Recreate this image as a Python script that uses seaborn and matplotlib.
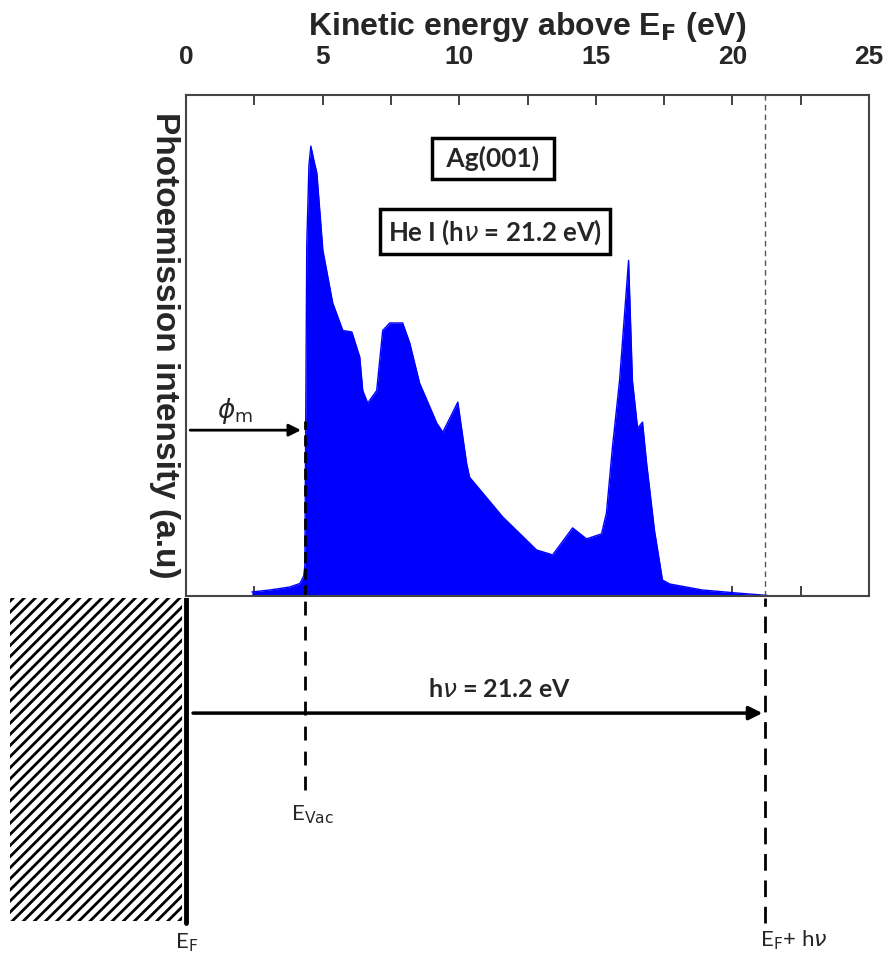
import matplotlib
matplotlib.use("Agg")
import matplotlib.pyplot as plt
import seaborn as sns
import pandas as pd

# ── Data ──────────────────────────────────────────────────────────────────────
ENERGY = [2.41, 3.07, 3.80, 4.17, 4.31, 4.35, 4.42, 4.50, 4.57, 4.68, 4.79,
          5.01, 5.37, 5.74, 6.07, 6.36, 6.47, 6.65, 6.98, 7.20, 7.46, 7.93,
          8.19, 8.55, 9.18, 9.40, 9.95, 10.27, 10.38, 11.59, 12.83, 13.42,
          14.15, 14.66, 15.21, 15.39, 15.61, 15.87, 16.20, 16.34, 16.53,
          16.71, 16.86, 17.15, 17.44, 17.70, 18.90, 20.15, 21.30]
INTENSITY = [0.008, 0.012, 0.018, 0.025, 0.04, 0.06, 0.70, 0.86, 0.898, 0.87,
             0.844, 0.69, 0.585, 0.53, 0.527, 0.477, 0.41, 0.385, 0.41, 0.53,
             0.545, 0.545, 0.505, 0.425, 0.345, 0.327, 0.387, 0.265, 0.237,
             0.158, 0.092, 0.082, 0.136, 0.114, 0.124, 0.166, 0.297, 0.43,
             0.67, 0.43, 0.335, 0.347, 0.265, 0.13, 0.032, 0.024, 0.012,
             0.006, 0.001]
X_TICKS = [0, 5, 10, 15, 20, 25]
E_VAC = 4.36        # work function of Ag(001), eV
H_NU = 21.2         # He I photon energy, eV

# ── Style ──────────────────────────────────────────────────────────────────────
sns.set_theme(style="white")
plt.rcParams["font.family"] = ["Liberation Sans", "DejaVu Sans"]
plt.rcParams["hatch.linewidth"] = 2.0
CAL = ["Lato", "DejaVu Sans"]
BLUE = "#0000ff"

df = pd.DataFrame({"energy": ENERGY, "intensity": INTENSITY})

fig = plt.figure(figsize=(8.89, 9.57), dpi=100)
ax = fig.add_axes([186 / 889, 361 / 957, 683 / 889, 501 / 957])
ax2 = fig.add_axes([10 / 889, 7 / 957, 859 / 889, 352 / 957])

# ── Spectrum ──────────────────────────────────────────────────────────────────
ax.fill_between(df["energy"], df["intensity"], 0, color=BLUE, lw=0)
sns.lineplot(data=df, x="energy", y="intensity", ax=ax, color=BLUE, lw=1)
ax.set_xlim(0, 25)
ax.set_ylim(0, 1)
ax.set_xticks(X_TICKS)
ax.set_xticks([2.5, 7.5, 12.5, 17.5, 22.5], minor=True)
ax.set_yticks([])
ax.xaxis.tick_top()
ax.xaxis.set_label_position("top")
ax.tick_params(axis="x", which="both", direction="in", top=True, bottom=True,
               length=7, width=1.3, color="#333333",
               labelsize=19, pad=19)
for lab in ax.get_xticklabels():
    lab.set_fontweight("bold")
ax.set_xlabel("Kinetic energy above E$_{\\mathbf{F}}$ (eV)", fontsize=23,
              fontweight="bold", labelpad=7)
ax.set_ylabel("Photoemission intensity (a.u)", fontsize=24, fontweight="bold",
              rotation=-90, va="center", ha="center")
ax.yaxis.set_label_coords(-0.031, 0.5)
for s in ax.spines.values():
    s.set_color("#444444")
    s.set_linewidth(1.5)

ax.axvline(H_NU, color="#555555", lw=1, ls=(0, (4, 3)))
ax.plot([E_VAC, E_VAC], [0, 0.35], color="black", lw=2, ls=(0, (4, 2)))
ax.annotate("", xy=(E_VAC - 0.05, 0.331), xytext=(0.05, 0.331),
            arrowprops=dict(arrowstyle="-|>", color="black", lw=2,
                            mutation_scale=18))
ax.text(1.8, 0.37, "$\\phi_{\\rm m}$", fontsize=19, ha="center", va="center")

box = dict(boxstyle="square,pad=0.3", fc="white", ec="black", lw=2.5)
ax.text(11.24, 0.874, " Ag(001) ", fontsize=19, fontweight="bold", family=CAL,
        ha="center", va="center", bbox=box)
ax.text(11.31, 0.727, "He I (h$\\nu$ = 21.2 eV)", fontsize=18.5,
        fontweight="bold", family=CAL, ha="center", va="center", bbox=box)

# ── Energy level schematic ────────────────────────────────────────────────────
ax2.set_xlim(-6.45, 25)
ax2.set_ylim(0, 1)
ax2.axis("off")
ax2.fill_between([-6.45, -0.15], 0.082, 1.0, facecolor="white",
                 edgecolor="black", hatch="///", lw=0)
ax2.plot([0, 0], [0.076, 1.0], color="black", lw=3.5)
ax2.plot([E_VAC, E_VAC], [0.455, 1.0], color="black", lw=2, ls=(0, (5, 4)))
ax2.plot([H_NU, H_NU], [0.077, 1.0], color="black", lw=2, ls=(0, (6, 3.5)))
ax2.annotate("", xy=(H_NU, 0.673), xytext=(0.15, 0.673),
             arrowprops=dict(arrowstyle="-|>", color="black", lw=2.5,
                             mutation_scale=20))
ax2.text(11.46, 0.741, "h$\\nu$ = 21.2 eV", fontsize=18, fontweight="bold",
         family=CAL, ha="center", va="center")
ax2.text(E_VAC + 0.25, 0.384, "E$_{\\rm Vac}$", fontsize=16, family=CAL,
         ha="center", va="center")
ax2.text(0.0, 0.02, "E$_{\\rm F}$", fontsize=16, family=CAL,
         ha="center", va="center")
ax2.text(22.26, 0.028, "E$_{\\rm F}$+ h$\\nu$", fontsize=16, family=CAL,
         ha="center", va="center")

fig.savefig("out.png", dpi=100)
